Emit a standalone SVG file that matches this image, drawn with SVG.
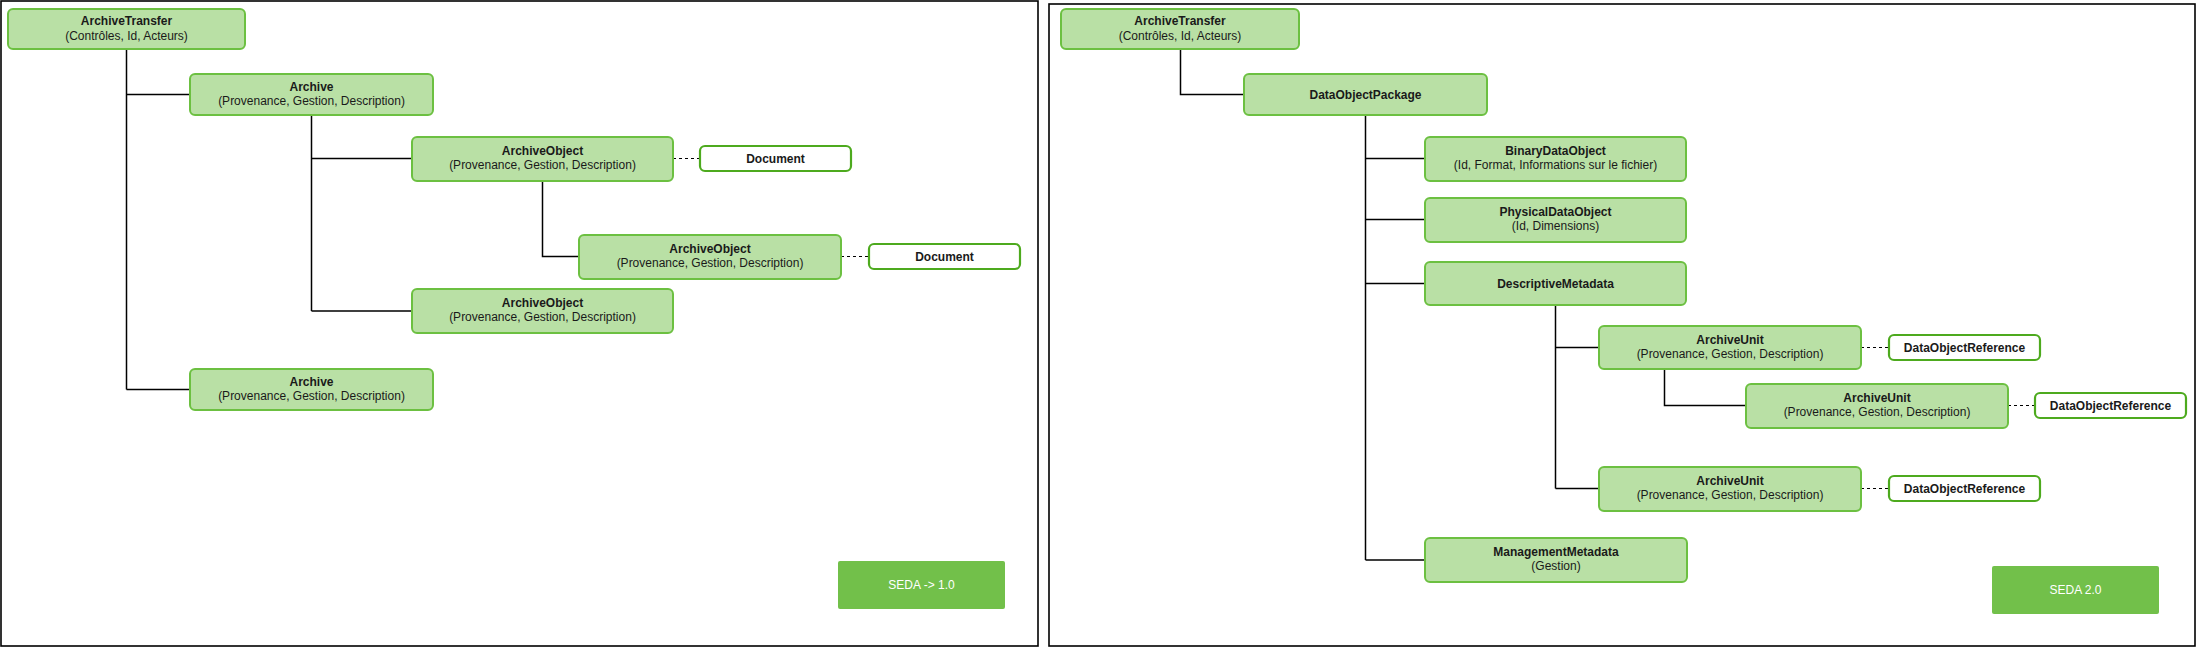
<svg xmlns="http://www.w3.org/2000/svg" width="2198" height="647" viewBox="0 0 2198 647">
<style>
  .frame{fill:#ffffff;stroke:#000000;stroke-width:1.6}
  .node rect{fill:#B9E0A5;stroke:#6CC041;stroke-width:2}
  .doc rect{fill:#ffffff;stroke:#4DAA1E;stroke-width:2.2}
  .tag rect{fill:#72C04A;stroke:none}
  text{font-family:"Liberation Sans",Arial,sans-serif;font-size:12px;text-anchor:middle;fill:#1a1a1a}
  .t{font-weight:bold}
  .tag text{fill:#ffffff}
  .edges path{fill:none;stroke:#000000;stroke-width:1.5}
  .edges path.dash{stroke-dasharray:3 3;stroke-width:1.2}
</style>
<rect class="frame" x="1" y="1" width="1037" height="645"/>
<rect class="frame" x="1049" y="4" width="1146" height="642"/>
<g class="edges">
  <path d="M126.5 49 V389.5 M126.5 94.5 H190 M126.5 389.5 H190"/>
  <path d="M311.5 115 V311 M311.5 158.5 H412 M311.5 311 H412"/>
  <path d="M542.5 181 V256.5 H579"/>
  <path class="dash" d="M673 158.5 H700"/>
  <path class="dash" d="M841 256.5 H869"/>
  <path d="M1180.5 49 V94.5 H1244"/>
  <path d="M1365.5 115 V560 M1365.5 158.5 H1425 M1365.5 219.5 H1425 M1365.5 283.5 H1425 M1365.5 560 H1425"/>
  <path d="M1555.5 305 V488.5 M1555.5 347.5 H1599 M1555.5 488.5 H1599"/>
  <path d="M1664.5 369 V405.5 H1746"/>
  <path class="dash" d="M1861 347.5 H1889"/>
  <path class="dash" d="M2008 405.5 H2035"/>
  <path class="dash" d="M1861 488.5 H1889"/>
</g>
<g id="l-archivetransfer" class="node"><rect x="8" y="9" width="237" height="40" rx="5"/><text class="t" x="126.5" y="25">ArchiveTransfer</text><text x="126.5" y="39.5">(Contrôles, Id, Acteurs)</text></g>
<g id="l-archive1" class="node"><rect x="190" y="74" width="243" height="41" rx="5"/><text class="t" x="311.5" y="90.5">Archive</text><text x="311.5" y="104.5">(Provenance, Gestion, Description)</text></g>
<g id="l-archiveobject1" class="node"><rect x="412" y="137" width="261" height="44" rx="5"/><text class="t" x="542.5" y="155">ArchiveObject</text><text x="542.5" y="169">(Provenance, Gestion, Description)</text></g>
<g id="l-document1" class="doc"><rect x="700" y="146" width="151" height="25" rx="5"/><text class="t" x="775.5" y="162.5">Document</text></g>
<g id="l-archiveobject2" class="node"><rect x="579" y="235" width="262" height="44" rx="5"/><text class="t" x="710" y="253">ArchiveObject</text><text x="710" y="267">(Provenance, Gestion, Description)</text></g>
<g id="l-document2" class="doc"><rect x="869" y="244" width="151" height="25" rx="5"/><text class="t" x="944.5" y="260.5">Document</text></g>
<g id="l-archiveobject3" class="node"><rect x="412" y="289" width="261" height="44" rx="5"/><text class="t" x="542.5" y="307">ArchiveObject</text><text x="542.5" y="321">(Provenance, Gestion, Description)</text></g>
<g id="l-archive2" class="node"><rect x="190" y="369" width="243" height="41" rx="5"/><text class="t" x="311.5" y="385.5">Archive</text><text x="311.5" y="399.5">(Provenance, Gestion, Description)</text></g>
<g id="l-seda" class="tag"><rect x="838" y="561" width="167" height="48" rx="2"/><text x="921.5" y="589">SEDA -&gt; 1.0</text></g>
<g id="r-archivetransfer" class="node"><rect x="1061" y="9" width="238" height="40" rx="5"/><text class="t" x="1180" y="25">ArchiveTransfer</text><text x="1180" y="39.5">(Contrôles, Id, Acteurs)</text></g>
<g id="r-dataobjectpackage" class="node"><rect x="1244" y="74" width="243" height="41" rx="5"/><text class="t" x="1365.5" y="98.5">DataObjectPackage</text></g>
<g id="r-binarydataobject" class="node"><rect x="1425" y="137" width="261" height="44" rx="5"/><text class="t" x="1555.5" y="155">BinaryDataObject</text><text x="1555.5" y="169">(Id, Format, Informations sur le fichier)</text></g>
<g id="r-physicaldataobject" class="node"><rect x="1425" y="198" width="261" height="44" rx="5"/><text class="t" x="1555.5" y="216">PhysicalDataObject</text><text x="1555.5" y="230">(Id, Dimensions)</text></g>
<g id="r-descriptivemetadata" class="node"><rect x="1425" y="262" width="261" height="43" rx="5"/><text class="t" x="1555.5" y="287.5">DescriptiveMetadata</text></g>
<g id="r-archiveunit1" class="node"><rect x="1599" y="326" width="262" height="43" rx="5"/><text class="t" x="1730" y="343.5">ArchiveUnit</text><text x="1730" y="357.5">(Provenance, Gestion, Description)</text></g>
<g id="r-dor1" class="doc"><rect x="1889" y="335" width="151" height="25" rx="5"/><text class="t" x="1964.5" y="351.5">DataObjectReference</text></g>
<g id="r-archiveunit2" class="node"><rect x="1746" y="384" width="262" height="44" rx="5"/><text class="t" x="1877" y="402">ArchiveUnit</text><text x="1877" y="416">(Provenance, Gestion, Description)</text></g>
<g id="r-dor2" class="doc"><rect x="2035" y="393" width="151" height="25" rx="5"/><text class="t" x="2110.5" y="409.5">DataObjectReference</text></g>
<g id="r-archiveunit3" class="node"><rect x="1599" y="467" width="262" height="44" rx="5"/><text class="t" x="1730" y="485">ArchiveUnit</text><text x="1730" y="499">(Provenance, Gestion, Description)</text></g>
<g id="r-dor3" class="doc"><rect x="1889" y="476" width="151" height="25" rx="5"/><text class="t" x="1964.5" y="492.5">DataObjectReference</text></g>
<g id="r-managementmetadata" class="node"><rect x="1425" y="538" width="262" height="44" rx="5"/><text class="t" x="1556" y="556">ManagementMetadata</text><text x="1556" y="570">(Gestion)</text></g>
<g id="r-seda" class="tag"><rect x="1992" y="566" width="167" height="48" rx="2"/><text x="2075.5" y="594">SEDA 2.0</text></g>
</svg>
